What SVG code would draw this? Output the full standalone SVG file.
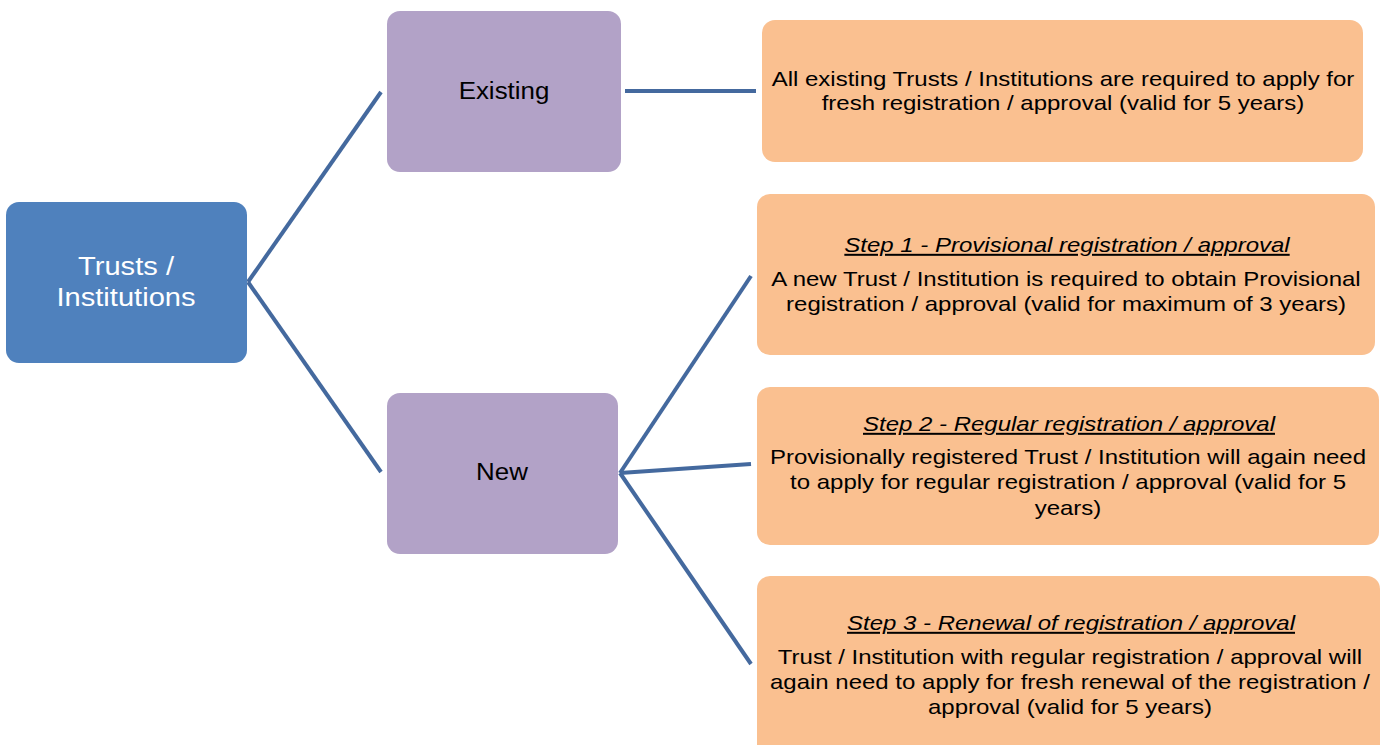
<svg xmlns="http://www.w3.org/2000/svg" width="1386" height="745" viewBox="0 0 1386 745">
<style>
.root{fill:#4f81bd}
.mid{fill:#b2a2c7}
.leaf{fill:#fac090}
.t{font-family:"Liberation Sans",Arial,sans-serif;text-anchor:middle}
.tw{fill:#ffffff;font-size:26px}
.tm{fill:#000000;font-size:24px}
.tl{fill:#000000;font-size:20px}
.h{font-style:italic;text-decoration:underline}
.c{stroke:#44699e;stroke-width:4;fill:none}
</style>
<rect width="1386" height="745" fill="#ffffff"/>
<g id="connectors">
<line class="c" x1="248" y1="282" x2="381" y2="92"/>
<line class="c" x1="248" y1="282" x2="381" y2="472"/>
<line class="c" x1="625" y1="91" x2="756" y2="91"/>
<line class="c" x1="620" y1="473" x2="751" y2="276"/>
<line class="c" x1="620" y1="473" x2="751" y2="464"/>
<line class="c" x1="620" y1="473" x2="751" y2="664"/>
</g>
<g id="trusts">
<rect class="root" x="6" y="202" width="241" height="161" rx="13"/>
<text class="t tw" transform="translate(126 275) scale(1.12 1)">Trusts /</text>
<text class="t tw" transform="translate(126 306) scale(1.12 1)">Institutions</text>
</g>
<g id="existing">
<rect class="mid" x="387" y="11" width="234" height="161" rx="13"/>
<text class="t tm" transform="translate(504 99) scale(1.08 1)">Existing</text>
</g>
<g id="new">
<rect class="mid" x="387" y="393" width="231" height="161" rx="13"/>
<text class="t tm" transform="translate(502 480) scale(1.08 1)">New</text>
</g>
<g id="existing-detail">
<rect class="leaf" x="762" y="20" width="601" height="142" rx="13"/>
<text class="t tl" transform="translate(1063 86) scale(1.2 1)">All existing Trusts / Institutions are required to apply for</text>
<text class="t tl" transform="translate(1063 110) scale(1.2 1)">fresh registration / approval (valid for 5 years)</text>
</g>
<g id="step1">
<rect class="leaf" x="757" y="194" width="618" height="161" rx="13"/>
<text class="t tl h" transform="translate(1067 252) scale(1.2 1)">Step 1 - Provisional registration / approval</text>
<text class="t tl" transform="translate(1066 286) scale(1.2 1)">A new Trust / Institution is required to obtain Provisional</text>
<text class="t tl" transform="translate(1066 311) scale(1.2 1)">registration / approval (valid for maximum of 3 years)</text>
</g>
<g id="step2">
<rect class="leaf" x="757" y="387" width="622" height="158" rx="13"/>
<text class="t tl h" transform="translate(1069 431) scale(1.2 1)">Step 2 - Regular registration / approval</text>
<text class="t tl" transform="translate(1068 464) scale(1.2 1)">Provisionally registered Trust / Institution will again need</text>
<text class="t tl" transform="translate(1068 489) scale(1.2 1)">to apply for regular registration / approval (valid for 5</text>
<text class="t tl" transform="translate(1068 515) scale(1.2 1)">years)</text>
</g>
<g id="step3">
<rect class="leaf" x="757" y="576" width="623" height="185" rx="13"/>
<text class="t tl h" transform="translate(1071 630) scale(1.2 1)">Step 3 - Renewal of registration / approval</text>
<text class="t tl" transform="translate(1070 664) scale(1.2 1)">Trust / Institution with regular registration / approval will</text>
<text class="t tl" transform="translate(1070 689) scale(1.2 1)">again need to apply for fresh renewal of the registration /</text>
<text class="t tl" transform="translate(1070 714) scale(1.2 1)">approval (valid for 5 years)</text>
</g>
</svg>
